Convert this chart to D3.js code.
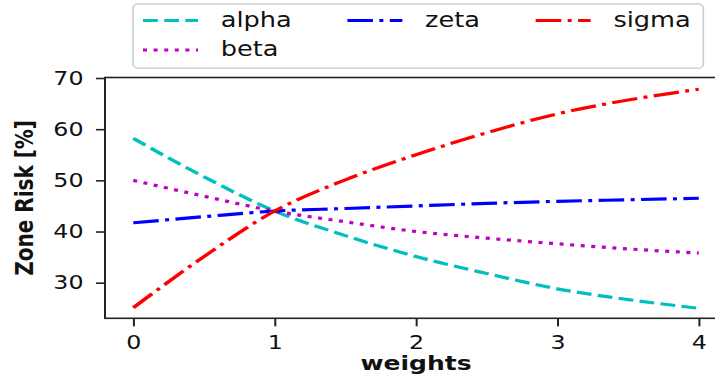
<!DOCTYPE html>
<html>
<head>
<meta charset="utf-8">
<script src="https://cdn.jsdelivr.net/npm/d3@7"></script>
<style>
    body { margin: 0; background: #fff; }
    text { font-family: "DejaVu Sans", sans-serif; fill: #111; }
</style>
</head>
<body>
<svg id="plt"></svg>
<script>
// values
const weights = [0, 0.5, 1, 1.5, 2, 2.5, 3, 3.5, 4];
const alpha = [58.2, 50.7, 44.0, 39.2, 35.1, 31.8, 28.8, 26.7, 25.0];
const beta  = [50.0, 46.9, 44.0, 41.9, 40.0, 38.7, 37.6, 36.6, 35.8];
const zeta  = [41.7, 42.9, 44.0, 44.5, 45.0, 45.5, 45.9, 46.2, 46.5];
const sigma = [25.1, 35.1, 44.0, 50.1, 55.0, 59.3, 63.0, 65.7, 67.8];

const seriesNames = ["alpha", "beta", "zeta", "sigma"];
const xTicks = [0, 1, 2, 3, 4];
const yTicks = [30, 40, 50, 60, 70];

const lw = 3.2;
const styles = {
    alpha: {color: "#00bfbf", dash: [3.7, 1.6]},
    beta:  {color: "#bf00bf", dash: [1, 1.65]},
    zeta:  {color: "#0000ff", dash: [6.4, 1.6, 1, 1.6]},
    sigma: {color: "#ff0000", dash: [6.4, 1.6, 1, 1.6]}
};
const values = {alpha: alpha, beta: beta, zeta: zeta, sigma: sigma};

// the source figure is stretched sideways, so draw in narrow units and scale
const stretch = 1.25;
const W = 715, H = 381;

const plot = {left: 84, top: 77.5, bottom: 318.3};

let x = d3.scaleLinear().domain([-0.2, 4.2]).range([plot.left, plot.left + 4.4 * 113.1]);
let y = d3.scaleLinear().domain([23.04, 70.1]).range([plot.bottom, plot.top]);

const svg = d3.select("#plt")
    .attr("width", W)
    .attr("height", H)
    .append("g")
    .attr("transform", "scale(" + stretch + ",1)");

// curves
const line = d3.line()
    .x(function (d, i) { return x(weights[i]); })
    .y(function (d) { return y(d); })
    .curve(d3.curveMonotoneX);

seriesNames.forEach(function (name) {
    svg.append("path")
        .datum(values[name])
        .attr("fill", "none")
        .attr("stroke", styles[name].color)
        .attr("stroke-width", lw)
        .attr("stroke-dasharray", styles[name].dash.map(v => v * lw).join(","))
        .attr("d", line);
});

// axes
const gx = svg.append("g")
    .attr("transform", "translate(0," + plot.bottom + ")")
    .call(d3.axisBottom(x).tickValues(xTicks).tickFormat(d3.format("d"))
        .tickSize(8).tickPadding(9).tickSizeOuter(0));
const gy = svg.append("g")
    .attr("transform", "translate(" + plot.left + ",0)")
    .call(d3.axisLeft(y).tickValues(yTicks).tickFormat(d3.format("d"))
        .tickSize(7.2).tickPadding(10).tickSizeOuter(0));

[gx, gy].forEach(function (g) {
    g.select(".domain").remove();
    g.selectAll("line").attr("stroke", "#222").attr("stroke-width", 1.6);
    g.selectAll("text")
        .style("font-family", "DejaVu Sans")
        .style("font-size", "19px")
        .attr("fill", "#111");
});

// spines (right one falls outside the picture)
const xr = x.range();
svg.append("rect")
    .attr("x", xr[0])
    .attr("y", plot.top)
    .attr("width", xr[1] - xr[0])
    .attr("height", plot.bottom - plot.top)
    .attr("fill", "none")
    .attr("stroke", "#222")
    .attr("stroke-width", 1.6);

// axis labels
svg.append("text")
    .attr("x", (xr[0] + xr[1]) / 2)
    .attr("y", 370)
    .attr("text-anchor", "middle")
    .style("font-size", "20px")
    .style("font-weight", "bold")
    .text("weights");

svg.append("text")
    .attr("transform", "translate(26.4," + ((plot.top + plot.bottom) / 2) + ") rotate(-90)")
    .attr("text-anchor", "middle")
    .style("font-size", "20px")
    .style("font-weight", "bold")
    .text("Zone Risk [%]");

// legend, 3 columns filled column by column (first column takes the extra entry)
const legend = svg.append("g");
const box = legend.append("rect")
    .attr("x", 106.4)
    .attr("y", 4)
    .attr("height", 64.3)
    .attr("rx", 4)
    .attr("fill", "#fff")
    .attr("stroke", "#d0d0d0")
    .attr("stroke-width", 1.4);

const ncol = 3;
const nrow = Math.ceil(seriesNames.length / ncol);
const nLarge = seriesNames.length % ncol || ncol;
let columns = [], k = 0;
for (let c = 0; c < ncol; c++) {
    const n = c < nLarge ? nrow : nrow - 1;
    columns.push(seriesNames.slice(k, k + n));
    k += n;
}

const handleLen = 44, handleGap = 18.2, colSpacing = 44.5;
const rowBase = [27, 56.5];
let colX = 106.4 + 8;
let textEnd = 0;
columns.forEach(function (col) {
    let maxW = 0;
    col.forEach(function (name, r) {
        legend.append("line")
            .attr("x1", colX)
            .attr("x2", colX + handleLen)
            .attr("y1", rowBase[r] - 6.5)
            .attr("y2", rowBase[r] - 6.5)
            .attr("stroke", styles[name].color)
            .attr("stroke-width", lw)
            .attr("stroke-dasharray", styles[name].dash.map(v => v * lw).join(","));
        const t = legend.append("text")
            .attr("x", colX + handleLen + handleGap)
            .attr("y", rowBase[r])
            .style("font-size", "20.5px")
            .text(name);
        maxW = Math.max(maxW, t.node().getComputedTextLength());
    });
    textEnd = colX + handleLen + handleGap + maxW;
    colX = textEnd + colSpacing;
});
box.attr("width", textEnd + 10 - 106.4);
</script>
</body>
</html>
